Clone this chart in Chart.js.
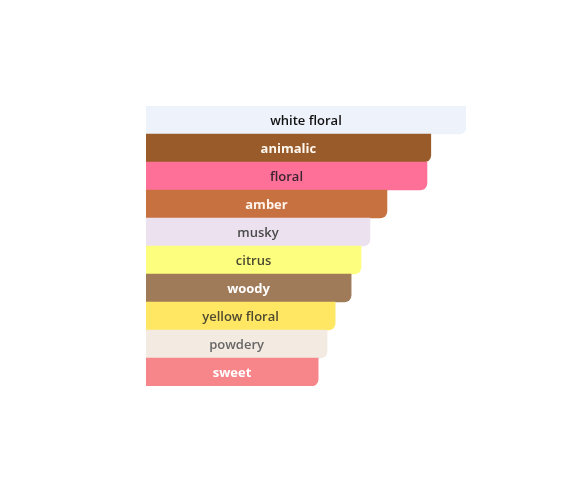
<!DOCTYPE html>
<html>
<head>
<meta charset="utf-8">
<script src="https://cdn.jsdelivr.net/npm/chart.js@4"></script>
<style>
html,body{margin:0;padding:0;background:#fff;}
#wrap{width:574px;height:481px;}
</style>
</head>
<body>
<div id="wrap"><canvas id="c" width="574" height="481"></canvas></div>
<script>
const categories = ["white floral","animalic","floral","amber","musky","citrus","woody","yellow floral","powdery","sweet"];
const values = [100, 89, 87.8, 75.3, 70, 67.2, 64.1, 59.1, 56.6, 53.8];
const barColors = ["#EEF2FB","#985B29","#FF7099","#C87140","#ECE2EF","#FDFD7E","#A07B5A","#FFE763","#F3EAE1","#F7868A"];
const textColors = ["#111111","#FFF8F0","#3A2530","#FFF4EC","#4A4A4A","#4A4A30","#FFFFFF","#4F4A30","#666666","#FFFFFF"];
const textWeights = [600, 700, 600, 700, 600, 600, 700, 600, 600, 700];

const labelPlugin = {
  id: 'barLabels',
  afterDatasetsDraw(chart) {
    const ctx = chart.ctx;
    const meta = chart.getDatasetMeta(0);
    ctx.save();
    ctx.textAlign = 'center';
    ctx.textBaseline = 'middle';
    meta.data.forEach((bar, i) => {
      const p = bar.getProps(['x','y','base'], true);
      ctx.font = textWeights[i] + " 13px 'Open Sans', sans-serif";
      ctx.fillStyle = textColors[i];
      ctx.fillText(categories[i], (p.x + p.base) / 2, p.y + 1);
    });
    ctx.restore();
  }
};

new Chart(document.getElementById('c'), {
  type: 'bar',
  data: {
    labels: categories,
    datasets: [{
      data: values,
      backgroundColor: barColors,
      borderWidth: 0,
      borderRadius: {topLeft:0, bottomLeft:0, topRight:0, bottomRight:7},
      borderSkipped: false,
      barPercentage: 1,
      categoryPercentage: 1
    }]
  },
  options: {
    indexAxis: 'y',
    responsive: false,
    animation: false,
    layout: { padding: { left: 146, right: 108, top: 106, bottom: 95 } },
    plugins: { legend: { display: false }, tooltip: { enabled: false } },
    scales: {
      x: { display: false, min: 0, max: 100 },
      y: { display: false }
    }
  },
  plugins: [labelPlugin]
});
</script>
</body>
</html>
